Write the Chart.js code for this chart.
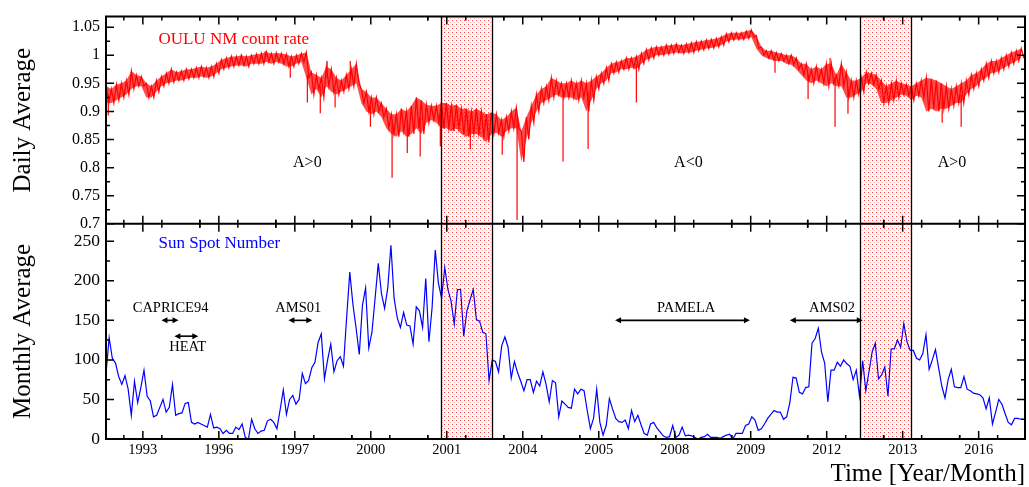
<!DOCTYPE html>
<html><head><meta charset="utf-8">
<script src="https://cdn.jsdelivr.net/npm/chart.js@4"></script>
<style>html,body{margin:0;padding:0;background:#fff;}canvas{display:block;}</style>
</head><body>
<canvas id="c" width="1029" height="487"></canvas>
<script>
// ---------- data ----------
const xTickValues = [1993,1995,1997,1999,2001,2003,2005,2007,2009,2011,2013,2015];
const xTickLabels = ['1993','1996','1997','2000','2001','2004','2005','2008','2009','2012','2013','2016'];
const topTicks = [0.7,0.75,0.8,0.85,0.9,0.95,1,1.05];
const bottomTicks = [0,50,100,150,200,250];

// OULU neutron monitor daily average: upper / lower edge of the daily scatter band
const nmStart = 1992.04, nmStep = 0.1316;
const nmUpper = [
.945,.940,.948,.950,.955,.972,.965,.962,.950,.945,
.955,.962,.968,.975,.970,.972,.975,.975,.978,.980,
.978,.980,.985,.992,.995,.998,.998,1.000,.998,1.000,
1.002,1.003,1.006,1.003,1.004,1.003,1.002,.998,1.000,1.003,
1.005,.970,.965,.960,.980,.975,.960,.955,.965,.975,
.985,.940,.935,.925,.925,.915,.905,.895,.895,.905,
.900,.910,.925,.920,.912,.910,.910,.915,.915,.910,
.912,.905,.905,.900,.905,.900,.895,.898,.895,.885,
.890,.900,.907,.865,.890,.910,.930,.940,.945,.960,
.955,.950,.950,.955,.950,.955,.950,.955,.962,.968,
.978,.985,.988,.990,.995,.995,.998,1.003,1.010,1.013,
1.015,1.015,1.018,1.018,1.020,1.018,1.020,1.022,1.024,1.025,
1.027,1.028,1.030,1.033,1.038,1.040,1.040,1.040,1.043,1.045,
1.035,1.015,1.008,1.008,1.005,1.003,1.000,1.000,.995,.985,
.985,.975,.980,.975,.985,.985,.965,.985,.970,.955,
.955,.960,.970,.968,.965,.955,.945,.950,.955,.950,
.948,.945,.950,.955,.960,.958,.955,.950,.945,.940,
.945,.950,.955,.965,.968,.975,.985,.990,.990,.995,
1.000,1.005,1.008,1.012
];
const nmLower = [
.915,.915,.920,.925,.930,.940,.945,.945,.925,.925,
.935,.945,.950,.952,.955,.955,.958,.960,.960,.962,
.960,.962,.968,.975,.978,.980,.982,.982,.980,.985,
.985,.985,.988,.985,.988,.985,.980,.980,.985,.988,
.960,.930,.940,.925,.945,.935,.930,.935,.940,.945,
.950,.915,.900,.895,.900,.890,.870,.860,.855,.865,
.855,.860,.870,.860,.880,.885,.880,.870,.870,.865,
.870,.860,.855,.860,.860,.855,.845,.860,.862,.855,
.865,.870,.870,.810,.850,.880,.900,.915,.920,.925,
.930,.925,.925,.925,.920,.925,.900,.920,.940,.950,
.955,.968,.970,.975,.975,.978,.975,.985,.992,.995,
1.000,1.000,1.002,1.003,1.005,1.003,1.005,1.005,1.008,1.010,
1.012,1.013,1.015,1.018,1.024,1.027,1.028,1.028,1.030,1.032,
1.012,1.000,.995,.992,.990,.990,.985,.983,.975,.965,
.955,.950,.955,.950,.945,.950,.945,.945,.925,.925,
.930,.935,.950,.948,.940,.915,.915,.920,.925,.930,
.928,.920,.928,.925,.900,.905,.900,.905,.905,.910,
.915,.915,.930,.940,.945,.955,.960,.968,.970,.975,
.980,.985,.990,.995
];
// isolated daily excursions (Forbush decreases / spikes)
const spikeYears = [1992.09,1996.22,1996.88,1997.33,1997.67,1997.85,1998.06,1998.46,1998.99,1999.56,1999.96,2000.30,2000.83,2001.62,2002.46,2002.85,2004.06,2004.72,2005.99,2009.64,2010.51,2011.09,2011.22,2011.56,2014.04,2014.54];
const spikeFrom  = [.930,.995,.990,.965,.945,.960,.940,.965,.910,.880,.885,.890,.895,.880,.875,.890,.940,.935,.985,.995,.965,.970,.960,.940,.925,.930];
const spikeTo    = [.893,1.007,.960,.916,.897,.990,.907,.990,.873,.782,.826,.820,.838,.833,.823,.707,.811,.833,.916,.969,.922,.995,.873,.896,.880,.873];

// Sun spot number, monthly average
const sunStart = 1992.03, sunStep = 1/12;
const sunValues = [
83,128,102,96,79,69,80,63,30,73,46,65,87,54,48,28,30,40,50,34,
40,69,30,32,33,45,46,21,19,21,19,17,15,31,14,15,13,7,11,7,
7,15,12,19,2,0,25,13,7,10,11,23,25,21,13,37,62,31,50,55,
44,50,83,70,74,90,97,122,133,76,100,120,85,99,104,92,153,211,
170,140,107,169,191,115,135,178,222,184,165,191,245,178,153,141,160,144,143,120,
167,162,141,203,123,166,239,197,178,217,189,174,145,189,189,130,162,176,189,151,
149,135,133,74,100,98,85,118,129,116,77,98,84,73,61,75,75,59,73,67,
85,69,47,74,71,28,48,44,40,39,63,57,63,61,36,13,26,63,21,5,
17,51,38,26,22,21,24,13,36,22,30,18,7,5,19,21,14,9,4,2,3,17,2,
5,15,4,5,4,2,0,2,3,6,2,2,2,1,3,5,6,0,7,7,
7,17,19,28,24,11,13,19,26,31,36,34,34,25,28,46,78,77,59,57,
65,66,121,127,140,110,96,47,87,87,97,92,100,95,92,75,87,54,99,61,
85,110,121,76,81,91,54,114,114,125,116,146,123,112,112,102,100,108,132,88,
100,113,90,67,52,75,88,66,65,65,79,63,61,58,57,56,52,38,52,19,
34,50,44,32,21,18,26,26,25
];

const reversalBands = [[2000.85,2002.20],[2011.88,2013.22]];
const missionNames  = ['CAPRICE94','HEAT','AMS01','PAMELA','AMS02'];
const missionFrom   = [1993.49,1993.83,1996.83,2005.43,2010.03];
const missionTo     = [1993.94,1994.46,1997.46,2008.98,2011.95];
const missionLevel  = [150,130,150,150,150];
const missionLabelX = [1993.73,1994.18,1997.09,2007.30,2011.14];
const missionLabelY = [166,116,166,166,166];
const polarityLabels = ['A>0','A<0','A>0'];
const polarityX = [1997.33,2007.36,2014.30];
const polarityY = 0.808;

// ---------- chart ----------
const SERIF = "'Liberation Serif','Times New Roman',serif";
const X_MIN = 1992.03, X_MAX = 2016.22;

function makePattern(ctx){
  const c = document.createElement('canvas'); c.width = 4; c.height = 4;
  const g = c.getContext('2d');
  g.fillStyle = '#ffffff'; g.fillRect(0,0,4,4);
  g.fillStyle = '#ff4040'; g.fillRect(0,0,1,1);
  g.fillStyle = '#ffb8b8'; g.fillRect(2,2,1,1);
  return ctx.createPattern(c,'repeat');
}

function arrow(ctx,x1,x2,y){
  ctx.beginPath(); ctx.moveTo(x1+3,y); ctx.lineTo(x2-3,y); ctx.stroke();
  ctx.beginPath(); ctx.moveTo(x1,y); ctx.lineTo(x1+6,y-3); ctx.lineTo(x1+6,y+3); ctx.closePath(); ctx.fill();
  ctx.beginPath(); ctx.moveTo(x2,y); ctx.lineTo(x2-6,y-3); ctx.lineTo(x2-6,y+3); ctx.closePath(); ctx.fill();
}

const panelPlugin = {
  id:'panels',
  beforeDatasetsDraw(chart){
    const {ctx, chartArea:ca, scales:{x}} = chart;
    const pat = makePattern(ctx);
    ctx.save();
    reversalBands.forEach(([a,b])=>{
      const xa = x.getPixelForValue(a), xb = x.getPixelForValue(b);
      ctx.fillStyle = pat;
      ctx.fillRect(xa, ca.top, xb-xa, ca.bottom-ca.top);
    });
    ctx.restore();
  },
  afterDatasetsDraw(chart){
    const {ctx, chartArea:ca, scales:{x, yTop, yBot}} = chart;
    const mid = yTop.getPixelForValue(0.7);
    ctx.save();
    ctx.strokeStyle = '#000'; ctx.fillStyle = '#000';
    ctx.lineWidth = 1.3;
    reversalBands.forEach(([a,b])=>{
      [a,b].forEach(v=>{
        const px = Math.round(x.getPixelForValue(v))+0.5;
        ctx.beginPath(); ctx.moveTo(px, ca.top); ctx.lineTo(px, ca.bottom); ctx.stroke();
      });
    });
    ctx.lineWidth = 2;
    ctx.strokeRect(ca.left, ca.top, ca.right-ca.left, ca.bottom-ca.top);
    ctx.beginPath(); ctx.moveTo(ca.left, mid); ctx.lineTo(ca.right, mid); ctx.stroke();
    ctx.lineWidth = 1.5;
    const xt = (v,len)=>{
      const px = x.getPixelForValue(v);
      if (px < ca.left+1 || px > ca.right-1) return;
      ctx.beginPath();
      ctx.moveTo(px, ca.top); ctx.lineTo(px, ca.top+len);
      ctx.moveTo(px, mid-len); ctx.lineTo(px, mid+len);
      ctx.moveTo(px, ca.bottom); ctx.lineTo(px, ca.bottom-len);
      ctx.stroke();
    };
    xTickValues.forEach(v=>{ xt(v,8); xt(v+0.5,4); xt(v+1.5,4); xt(v-0.5,4); });
    xt(xTickValues[0]-1,4);
    const yt = (scale,v,len)=>{
      const py = scale.getPixelForValue(v);
      ctx.beginPath();
      ctx.moveTo(ca.left, py); ctx.lineTo(ca.left+len, py);
      ctx.moveTo(ca.right, py); ctx.lineTo(ca.right-len, py);
      ctx.stroke();
    };
    topTicks.forEach((v,i)=>{ yt(yTop,v,8); if(i<topTicks.length-1) yt(yTop,v+0.025,4); });
    bottomTicks.forEach((v,i)=>{ yt(yBot,v,8); if(i<bottomTicks.length-1) yt(yBot,v+25,4); });
    ctx.lineWidth = 1.6;
    ctx.font = '14.5px ' + SERIF; ctx.textAlign='center'; ctx.textBaseline='middle';
    missionNames.forEach((n,i)=>{
      arrow(ctx, x.getPixelForValue(missionFrom[i]), x.getPixelForValue(missionTo[i]), yBot.getPixelForValue(missionLevel[i]));
      ctx.fillText(n, x.getPixelForValue(missionLabelX[i]), yBot.getPixelForValue(missionLabelY[i]));
    });
    ctx.font = '16px ' + SERIF;
    polarityLabels.forEach((t,i)=> ctx.fillText(t, x.getPixelForValue(polarityX[i]), yTop.getPixelForValue(polarityY)));
    ctx.textAlign='left';
    ctx.font = '17px ' + SERIF; ctx.fillStyle = '#ff0000';
    ctx.fillText('OULU NM count rate', x.getPixelForValue(1993.41), yTop.getPixelForValue(1.028));
    ctx.fillStyle = '#0000ff';
    ctx.fillText('Sun Spot Number', x.getPixelForValue(1993.41), yBot.getPixelForValue(247));
    ctx.restore();
  }
};

const upData = nmUpper.map((v,i)=>({x: nmStart + i*nmStep, y: v}));
const loData = nmLower.map((v,i)=>({x: nmStart + i*nmStep, y: v}));
// daily scatter: successive days swing between the upper and lower edge of the band
const dailyData = [];
nmUpper.forEach((v,i)=>{ dailyData.push({x: nmStart + i*nmStep, y: v}, {x: nmStart + (i+0.5)*nmStep, y: nmLower[i]}); });
const spikeData = [];
spikeYears.forEach((t,i)=>{ spikeData.push({x:t,y:spikeFrom[i]},{x:t,y:spikeTo[i]},{x:t,y:null}); });
const sunData = sunValues.map((v,i)=>({x: sunStart + i*sunStep, y: v}));

new Chart(document.getElementById('c'), {
  type:'line',
  data:{ datasets:[
    {label:'OULU band', data:upData, yAxisID:'yTop', borderWidth:0, borderColor:'rgba(0,0,0,0)', backgroundColor:'rgba(255,0,0,0.7)', pointRadius:0, tension:0, fill:'+1'},
    {label:'OULU lower', data:loData, yAxisID:'yTop', borderWidth:0, borderColor:'rgba(0,0,0,0)', pointRadius:0, tension:0, fill:false},
    {label:'OULU NM count rate', data:dailyData, yAxisID:'yTop', borderColor:'#ff0000', borderWidth:1.2, pointRadius:0, tension:0, fill:false},
    {label:'OULU spikes', data:spikeData, yAxisID:'yTop', borderColor:'#ff0000', borderWidth:1.2, pointRadius:0, tension:0, fill:false, spanGaps:false},
    {label:'Sun Spot Number', data:sunData, yAxisID:'yBot', borderColor:'#0000ff', borderWidth:1.2, pointRadius:0, tension:0, fill:false}
  ]},
  options:{
    responsive:false, animation:false, devicePixelRatio:1,
    layout:{padding:{top:7,right:4,left:0,bottom:0}},
    plugins:{legend:{display:false}, tooltip:{enabled:false}, filler:{propagate:false}},
    scales:{
      x:{type:'linear', position:'bottom', min:X_MIN, max:X_MAX,
        grid:{display:false, drawTicks:false}, border:{display:false},
        afterBuildTicks: s=>{ s.ticks = xTickValues.map(v=>({value:v})); },
        afterFit: s=>{ s.height = 48; },
        ticks:{ autoSkip:false, maxRotation:0, padding:2, color:'#000', font:{family:SERIF, size:14.5},
          callback:(v,i)=> xTickLabels[i] },
        title:{display:true, text:'Time [Year/Month]', align:'end', color:'#000', padding:{top:0,bottom:0}, font:{family:SERIF, size:25, lineHeight:1}}
      },
      yBot:{type:'linear', position:'left', stack:'panels', stackWeight:220, min:0, max:272,
        grid:{display:false, drawTicks:false}, border:{display:false},
        afterBuildTicks: s=>{ s.ticks = bottomTicks.map(v=>({value:v})); },
        afterFit: s=>{ s.width = 106; },
        ticks:{ autoSkip:false, padding:6, color:'#000', font:{family:SERIF, size:17.5}, callback:(v,i)=> String(bottomTicks[i]) },
        title:{display:true, text:'Monthly Average', color:'#000', padding:{top:8,bottom:0}, font:{family:SERIF, size:25}}
      },
      yTop:{type:'linear', position:'left', stack:'panels', stackWeight:212, min:0.7, max:1.069,
        grid:{display:false, drawTicks:false}, border:{display:false},
        afterBuildTicks: s=>{ s.ticks = topTicks.map(v=>({value:v})); },
        afterFit: s=>{ s.width = 106; },
        ticks:{ autoSkip:false, padding:6, color:'#000', font:{family:SERIF, size:16}, callback:(v,i)=> String(topTicks[i]) },
        title:{display:true, text:'Daily Average', color:'#000', padding:{top:8,bottom:0}, font:{family:SERIF, size:25}}
      }
    }
  },
  plugins:[panelPlugin]
});
</script>
</body></html>
